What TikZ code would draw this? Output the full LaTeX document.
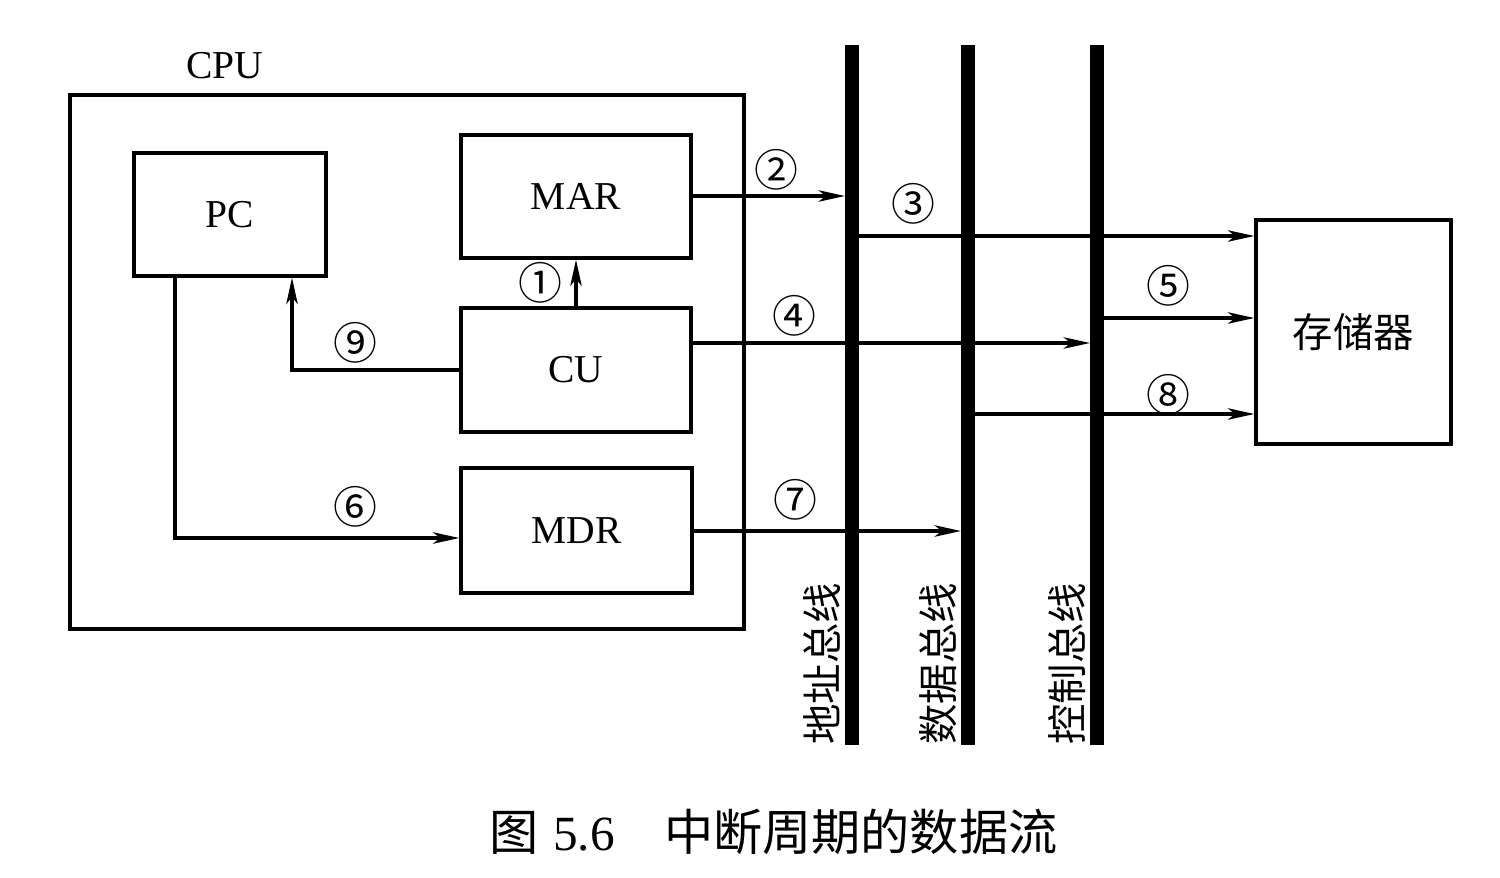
\documentclass[tikz,border=0pt]{standalone}
\usepackage{fontspec}
\setmainfont{Liberation Serif}
\newfontfamily\cjk{Noto Sans CJK SC}
\usetikzlibrary{arrows.meta}
\tikzset{
  box/.style={draw, line width=1.9pt, inner sep=0pt, font=\fontsize{22.5}{24}\selectfont},
  bus/.style={fill=black, draw=none, minimum width=0.28cm, minimum height=14cm, inner sep=0pt},
  arr/.style={line width=1.9pt, -{Stealth[length=15pt, width=6.5pt, inset=4pt]}},
  num/.style={font=\cjk\fontsize{25}{26}\selectfont, inner sep=0pt},
  buslbl/.style={font=\cjk\fontsize{23}{24}\selectfont, rotate=90, inner sep=0pt},
}
\begin{document}
\begin{tikzpicture}[x=0.02cm, y=-0.02cm]
\useasboundingbox (0,0) rectangle (1500,878);
% CPU frame
\node[box, minimum width=13.48cm, minimum height=10.68cm] (cpu) at (407,362) {};
\node[font=\fontsize{22.5}{24}\selectfont, inner sep=0pt] (cpulbl) at (225,66) {CPU};
% boxes
\node[box, minimum width=3.84cm, minimum height=2.46cm] (pc) at (230,214.5) {PC};
\node[box, minimum width=4.6cm, minimum height=2.46cm] (mar) at (576,196.5) {MAR};
\node[box, minimum width=4.6cm, minimum height=2.48cm] (cu) at (576,370) {CU};
\node[box, minimum width=4.62cm, minimum height=2.5cm] (mdr) at (576.5,530.5) {MDR};
\node[box, minimum width=3.9cm, minimum height=4.48cm, font=\cjk\fontsize{23}{24}\selectfont] (mem) at (1353.5,332) {存储器};
% arrows (drawn before the buses)
\coordinate (p3) at (852,236);
\coordinate (p5) at (1097,318);
\coordinate (p8) at (968,414);
\draw[arr] (mar.east |- 0,196) -- (845,196) coordinate (e2);
\draw[arr] (p3) -- (p3 -| mem.west);
\draw[arr] (cu.east |- 0,343) -- (1090,343) coordinate (e4);
\draw[arr] (p5) -- (p5 -| mem.west);
\draw[arr] (p8) -- (p8 -| mem.west);
\draw[arr] (mdr.east |- 0,531) -- (961,531) coordinate (e7);
\draw[arr] (cu.north) -- (mar.south);
\draw[arr] (cu.west) -- (292,370) coordinate (k9) -- (k9 |- pc.south);
\draw[arr] (175,276) coordinate (s6) -- (175,538) coordinate (k6) -- (k6 -| mdr.west);
% buses
\node[bus] (ab) at (852,395) {};
\node[bus] (db) at (968,395) {};
\node[bus] (cb) at (1097,395) {};
% bus labels
\node[buslbl, anchor=west] (abl) at (822,745) {地址总线};
\node[buslbl, anchor=west] (dbl) at (938,745) {数据总线};
\node[buslbl, anchor=west] (cbl) at (1067,745) {控制总线};
% numbers
\node[num] (n1) at (540,283) {①};
\node[num] (n2) at (776,170) {②};
\node[num] (n3) at (913,204) {③};
\node[num] (n4) at (794,316) {④};
\node[num] (n5) at (1168,286) {⑤};
\node[num] (n6) at (355,507) {⑥};
\node[num] (n7) at (795,500) {⑦};
\node[num] (n8) at (1168,395) {⑧};
\node[num] (n9) at (355,343) {⑨};
% caption
\node[inner sep=0pt, anchor=west, font=\fontsize{28}{30}\selectfont] (cap) at (489,832) {{\cjk 图}\hspace{0.3em}5.6\hspace{1.0em}{\cjk 中断周期的数据流}};
\end{tikzpicture}
\end{document}
